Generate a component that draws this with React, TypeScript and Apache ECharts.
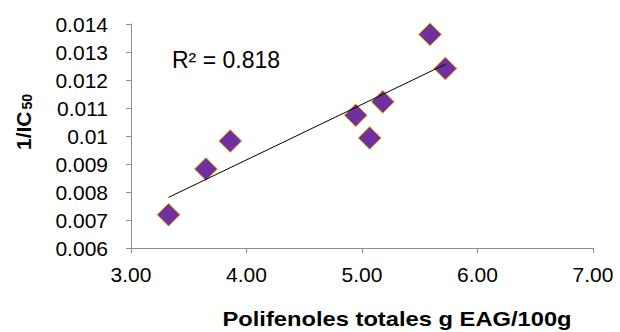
import React, { useEffect, useRef } from "react";
import * as echarts from "echarts";

const polifenoles: number[] = [3.325, 3.649, 3.859, 4.946, 5.067, 5.18, 5.589, 5.722];
const invIC50: number[] = [0.00719, 0.00882, 0.00982, 0.01074, 0.00993, 0.01122, 0.01363, 0.01241];
const xTicks = { min: 3, max: 7, interval: 1 };
const yTicks = { min: 0.006, max: 0.014, interval: 0.001 };
const r2Label = "R² = 0.818";
const xTitle = "Polifenoles totales g EAG/100g";

function linearFit(xs: number[], ys: number[]) {
  const n = xs.length;
  const mx = xs.reduce((a, b) => a + b, 0) / n;
  const my = ys.reduce((a, b) => a + b, 0) / n;
  let sxy = 0;
  let sxx = 0;
  for (let i = 0; i < n; i++) {
    sxy += (xs[i] - mx) * (ys[i] - my);
    sxx += (xs[i] - mx) * (xs[i] - mx);
  }
  const slope = sxy / sxx;
  const intercept = my - slope * mx;
  return { slope, intercept };
}

export default function App() {
  const ref = useRef<HTMLDivElement>(null);
  useEffect(() => {
    if (!ref.current) return;
    const chart = echarts.init(ref.current, undefined, { renderer: "svg" });
    const fit = linearFit(polifenoles, invIC50);
    const x0 = Math.min(...polifenoles);
    const x1 = Math.max(...polifenoles);
    const trend = [
      [x0, fit.intercept + fit.slope * x0],
      [x1, fit.intercept + fit.slope * x1],
    ];
    const font = "'Liberation Sans', Arial, sans-serif";
    chart.setOption({
      animation: false,
      backgroundColor: "#ffffff",
      textStyle: { fontFamily: font },
      grid: { left: 131, right: 27, top: 24, bottom: 84, containLabel: false },
      xAxis: {
        type: "value",
        min: xTicks.min,
        max: xTicks.max,
        interval: xTicks.interval,
        axisLine: { show: true, lineStyle: { color: "#8c8c8c", width: 1 } },
        axisTick: { show: true, inside: false, length: 5, lineStyle: { color: "#8c8c8c" } },
        splitLine: { show: false },
        axisLabel: {
          color: "#000",
          fontSize: 21,
          fontFamily: font,
          margin: 16,
          formatter: (v: number) => v.toFixed(2),
        },
      },
      yAxis: {
        type: "value",
        min: yTicks.min,
        max: yTicks.max,
        interval: yTicks.interval,
        axisLine: { show: true, lineStyle: { color: "#8c8c8c", width: 1 } },
        axisTick: { show: true, inside: false, length: 5, lineStyle: { color: "#8c8c8c" } },
        splitLine: { show: false },
        axisLabel: {
          color: "#000",
          fontSize: 21,
          fontFamily: font,
          margin: 23,
          formatter: (v: number) => String(parseFloat(v.toFixed(3))),
        },
      },
      series: [
        {
          type: "line",
          data: trend,
          symbol: "none",
          lineStyle: { color: "#000", width: 1 },
          z: 3,
        },
        {
          type: "scatter",
          data: polifenoles.map((x, i) => [x, invIC50[i]]),
          symbol: "diamond",
          symbolSize: 23,
          itemStyle: { color: "#7030A0", borderColor: "#FFC000", borderWidth: 1, opacity: 1 },
          z: 2,
        },
      ],
      graphic: [
        {
          type: "text",
          left: 172,
          top: 48,
          style: {
            text: r2Label,
            fontSize: 23,
            fontFamily: font,
            fill: "#000",
          },
        },
        {
          type: "text",
          x: 397,
          y: 319,
          scaleX: 1.13,
          style: {
            text: xTitle,
            fontSize: 21,
            fontWeight: "bold",
            fontFamily: font,
            fill: "#000",
            align: "center",
            verticalAlign: "middle",
          },
        },
        {
          type: "text",
          x: 23,
          y: 122,
          rotation: Math.PI / 2,
          style: {
            text: "{a|1/IC}{b|50}",
            fontFamily: font,
            fill: "#000",
            align: "center",
            verticalAlign: "middle",
            rich: {
              a: { fontSize: 21, fontWeight: "bold", fontFamily: font, lineHeight: 21, verticalAlign: "bottom" },
              b: { fontSize: 14, fontWeight: "bold", fontFamily: font, lineHeight: 6, verticalAlign: "bottom", padding: [0, 0, 0, 2] },
            },
          },
        },
      ],
    });
    return () => chart.dispose();
  }, []);
  return (
    <div
      ref={ref}
      style={{ position: "fixed", left: 0, top: 0, width: 620, height: 332 }}
    />
  );
}
